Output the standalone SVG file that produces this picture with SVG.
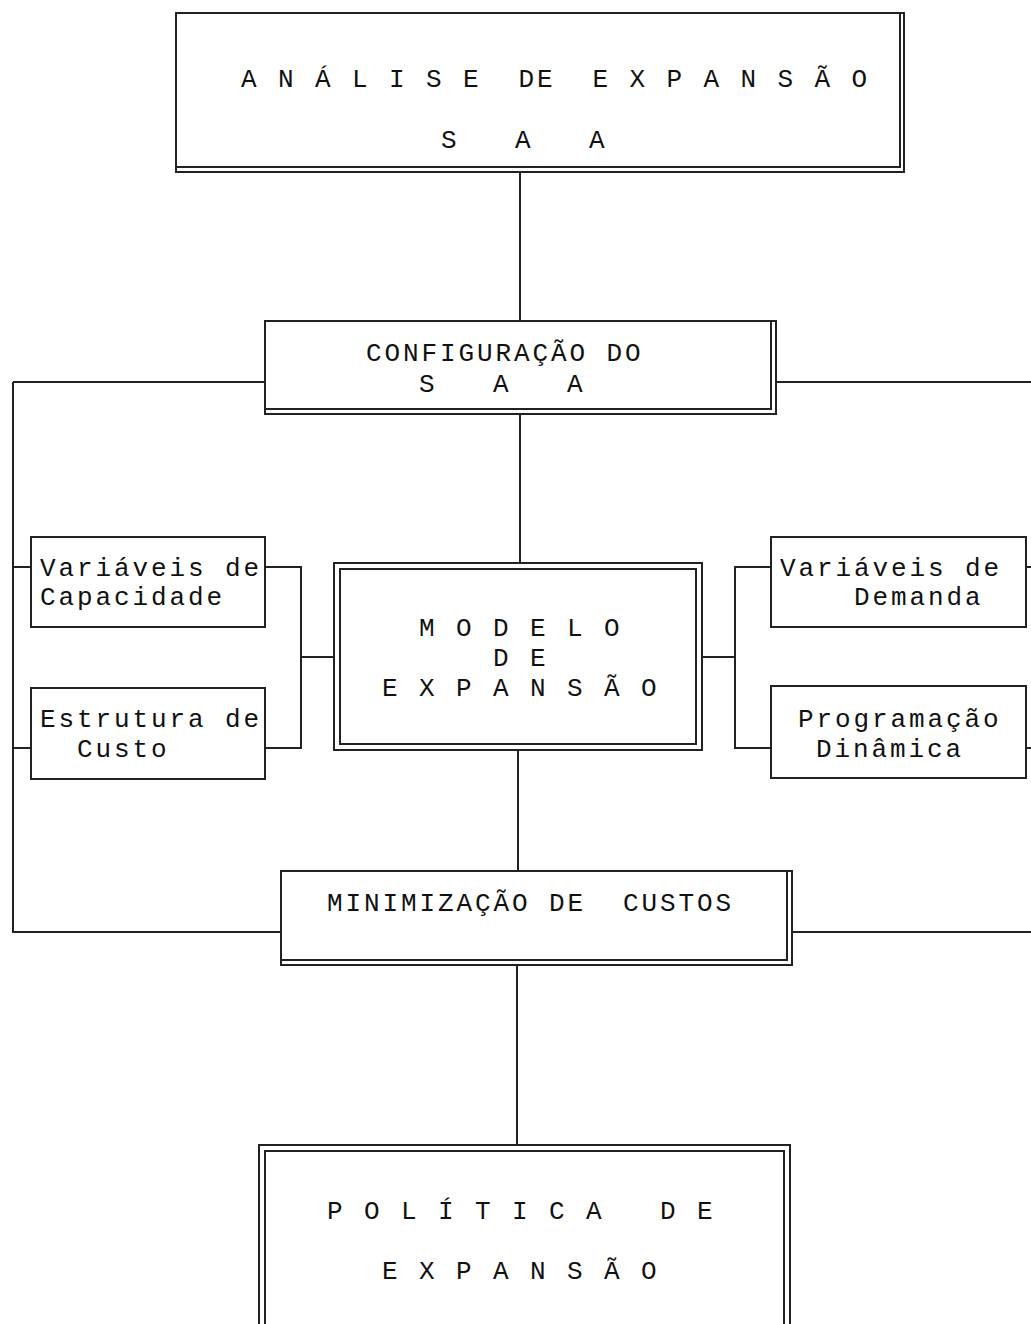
<svg xmlns="http://www.w3.org/2000/svg" width="1031" height="1324" viewBox="0 0 1031 1324">
<style>
.b{fill:#fff;stroke:#222;stroke-width:2}
.l{fill:none;stroke:#222;stroke-width:2}
.t{font-family:"Liberation Mono","Courier New",monospace;font-size:26px;letter-spacing:2.9px;fill:#111;white-space:pre}
</style>
<rect width="1031" height="1324" fill="#fff"/>
<g id="connectors">
<path class="l" d="M520 172V321"/>
<path class="l" d="M13 382H265M776 382H1031"/>
<path class="l" d="M13 382V932H281M792 932H1031"/>
<path class="l" d="M520 414V563"/>
<path class="l" d="M13 567H31M13 748H31"/>
<path class="l" d="M265 567H301V748H265M301 657H334"/>
<path class="l" d="M702 657H735M771 567H735V748H771"/>
<path class="l" d="M1026 567H1031M1026 748H1031"/>
<path class="l" d="M518 750V871"/>
<path class="l" d="M517 965V1145"/>
</g>
<g id="analise">
<rect class="b" x="176" y="13" width="728" height="159"/>
<path class="l" d="M176 167H900V13"/>
<text class="t" x="241" y="87" xml:space="preserve">A N Á L I S E  DE  E X P A N S Ã O</text>
<text class="t" x="441" y="148" xml:space="preserve">S   A   A</text>
</g>
<g id="configuracao">
<rect class="b" x="265" y="321" width="511" height="93"/>
<path class="l" d="M265 409H771V321"/>
<text class="t" x="366" y="361" xml:space="preserve">CONFIGURAÇÃO DO</text>
<text class="t" x="419" y="392" xml:space="preserve">S   A   A</text>
</g>
<g id="var-capacidade">
<rect class="b" x="31" y="537" width="234" height="90"/>
<text class="t" x="40" y="576">Variáveis de</text>
<text class="t" x="40" y="605">Capacidade</text>
</g>
<g id="estrutura-custo">
<rect class="b" x="31" y="688" width="234" height="91"/>
<text class="t" x="40" y="727">Estrutura de</text>
<text class="t" x="77" y="757">Custo</text>
</g>
<g id="modelo">
<rect class="b" x="334" y="563" width="368" height="187"/>
<rect class="b" x="340" y="569" width="356" height="175"/>
<text class="t" x="419" y="636">M O D E L O</text>
<text class="t" x="493" y="666">D E</text>
<text class="t" x="382" y="696" xml:space="preserve">E X P A N S Ã O</text>
</g>
<g id="var-demanda">
<rect class="b" x="771" y="537" width="255" height="90"/>
<text class="t" x="780" y="576">Variáveis de</text>
<text class="t" x="854" y="605">Demanda</text>
</g>
<g id="programacao">
<rect class="b" x="771" y="686" width="255" height="92"/>
<text class="t" x="798" y="727">Programação</text>
<text class="t" x="816" y="757">Dinâmica</text>
</g>
<g id="minimizacao">
<rect class="b" x="281" y="871" width="511" height="94"/>
<path class="l" d="M281 960H787V871"/>
<text class="t" x="327" y="911" xml:space="preserve">MINIMIZAÇÃO DE  CUSTOS</text>
</g>
<g id="politica">
<rect class="b" x="259" y="1145" width="531" height="190"/>
<rect class="b" x="265" y="1151" width="519" height="190"/>
<text class="t" x="327" y="1219" xml:space="preserve">P O L Í T I C A   D E</text>
<text class="t" x="382" y="1279" xml:space="preserve">E X P A N S Ã O</text>
</g>
</svg>
